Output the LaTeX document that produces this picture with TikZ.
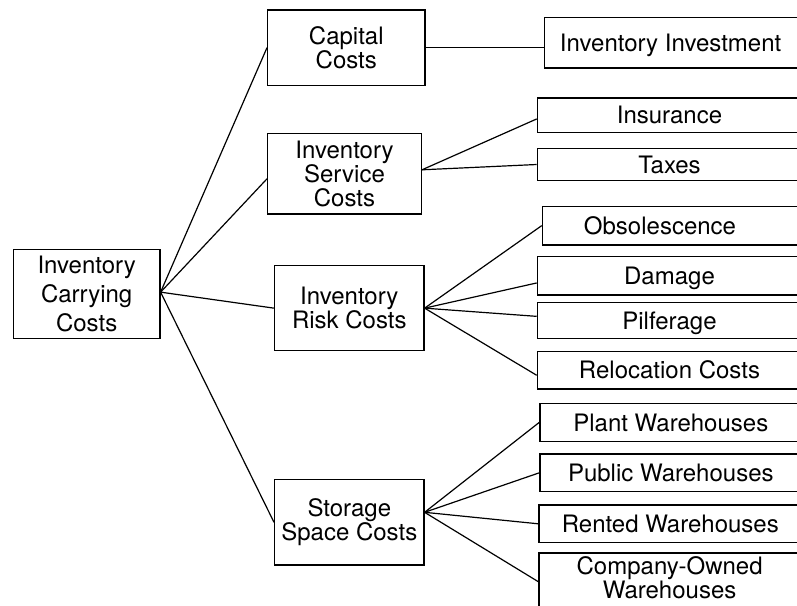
\documentclass[tikz,border=0pt]{standalone}
\usepackage{fontspec}
\setmainfont{TeX Gyre Heros}
\begin{document}
\begin{tikzpicture}[x=1pt,y=-1pt,
  box/.style={draw, line width=1.3pt, inner sep=0pt, anchor=north west, align=center, font=\fontsize{24}{24}\selectfont},
  leaf/.style={box, text height=17.3pt, text depth=0pt},
  conn/.style={line width=1.2pt}]
\useasboundingbox (0,0) rectangle (797,605);
\clip (0,0) rectangle (797,605);

% left and middle column
\node[box, minimum width=146.6pt, minimum height=89pt, font=\fontsize{24}{29}\selectfont] (root) at (12.7,249) {Inventory\\Carrying\\Costs};
\node[box, minimum width=157.3pt, minimum height=75.4pt] (cap) at (267,9.3) {Capital\\Costs};
\node[box, minimum width=153.7pt, minimum height=80.3pt] (svc) at (267,133) {Inventory\\Service\\Costs};
\node[box, minimum width=149.3pt, minimum height=85pt] (risk) at (274,265) {Inventory\\Risk Costs};
\node[box, minimum width=149.3pt, minimum height=85.3pt] (stor) at (274,479) {Storage\\Space Costs};

% right column (cut by the right edge)
\node[leaf, minimum width=257pt, minimum height=50.6pt] (inv) at (544,16.7) {Inventory Investment\hspace*{5pt}};
\node[leaf, minimum width=264.3pt, minimum height=34.4pt] (ins) at (536.7,97.3) {Insurance};
\node[leaf, minimum width=264.3pt, minimum height=32.3pt] (tax) at (536.7,147.7) {Taxes};
\node[leaf, minimum width=259.3pt, minimum height=38.6pt] (obs) at (541.7,205.7) {Obsolescence\hspace*{24pt}};
\node[leaf, minimum width=264.3pt, minimum height=38.6pt] (dam) at (536.7,255.7) {Damage};
\node[leaf, minimum width=264.3pt, minimum height=36pt] (pil) at (536.7,301.7) {Pilferage};
\node[leaf, minimum width=264.3pt, minimum height=37.3pt] (rel) at (536.7,351) {Relocation Costs};
\node[leaf, minimum width=261.7pt, minimum height=38pt] (pla) at (539.3,402.7) {Plant Warehouses};
\node[leaf, minimum width=261.7pt, minimum height=37.7pt] (pub) at (539.3,453.3) {Public Warehouses};
\node[leaf, minimum width=262.7pt, minimum height=37.7pt] (ren) at (538.3,504.3) {Rented Warehouses};
\node[box, minimum width=262.7pt, minimum height=80pt] (comp) at (538.3,552.3) {};
\node[inner sep=0pt, align=center, font=\fontsize{24}{22.5}\selectfont] (compt) at (669.6,577.4) {Company-Owned\\Warehouses};

% connectors
\draw[conn] ([yshift=2pt]root.east) -- (cap.west);
\draw[conn] ([yshift=2pt]root.east) -- ([yshift=-5pt]svc.west);
\draw[conn] ([yshift=2pt]root.east) -- (risk.west);
\draw[conn] ([yshift=2pt]root.east) -- (stor.west);

\draw[conn] (cap.east) -- (cap.east -| inv.west);

\draw[conn] ([yshift=4pt]svc.east) -- ([yshift=-3.8pt]ins.west);
\draw[conn] ([yshift=4pt]svc.east) -- (tax.west);

\draw[conn] (risk.east) -- (obs.west);
\draw[conn] (risk.east) -- ([yshift=-7.3pt]dam.west);
\draw[conn] (risk.east) -- ([yshift=4pt]pil.west);
\draw[conn] (risk.east) -- ([yshift=-5pt]rel.west);

\draw[conn] ([yshift=10pt]stor.east) -- (pla.west);
\draw[conn] ([yshift=10pt]stor.east) -- (pub.west);
\draw[conn] ([yshift=10pt]stor.east) -- (ren.west);
\draw[conn] ([yshift=10pt]stor.east) -- ([yshift=-29.4pt]comp.north west);
\end{tikzpicture}
\end{document}
